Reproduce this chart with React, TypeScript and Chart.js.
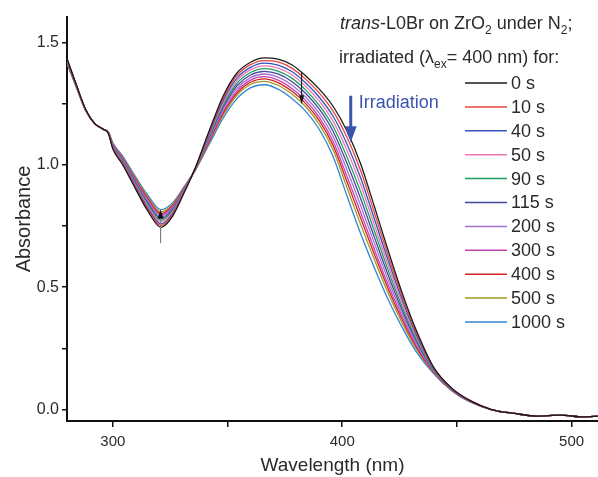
import React, { useEffect, useRef } from 'react';
import { Chart, registerables } from 'chart.js';

Chart.register(...registerables);

// Wavelength grid (nm)
const wavelengths = [280, 284, 288, 292, 296, 298, 300, 304, 310, 315, 321, 326, 331, 336, 342, 348, 354, 360, 366, 372, 378, 384, 390, 396, 402, 408, 414, 420, 426, 432, 440, 448, 456, 465, 475, 485, 495, 505, 512];

// Absorbance per irradiation time
const abs0 = [1.435, 1.33, 1.23, 1.17, 1.145, 1.13, 1.065, 1.005, 0.9, 0.815, 0.745, 0.79, 0.885, 0.99, 1.14, 1.28, 1.375, 1.42, 1.438, 1.433, 1.41, 1.365, 1.31, 1.24, 1.14, 1.005, 0.83, 0.65, 0.48, 0.33, 0.17, 0.085, 0.035, 0.0, -0.016, -0.027, -0.023, -0.03, -0.027];
const abs10 = [1.433, 1.329, 1.23, 1.17, 1.145, 1.13, 1.068, 1.009, 0.905, 0.822, 0.752, 0.796, 0.888, 0.989, 1.135, 1.271, 1.365, 1.41, 1.427, 1.421, 1.396, 1.351, 1.294, 1.22, 1.114, 0.977, 0.805, 0.63, 0.466, 0.321, 0.168, 0.084, 0.035, 0.0, -0.016, -0.027, -0.023, -0.03, -0.027];
const abs40 = [1.431, 1.328, 1.229, 1.17, 1.145, 1.131, 1.07, 1.012, 0.91, 0.828, 0.759, 0.801, 0.89, 0.988, 1.129, 1.262, 1.354, 1.399, 1.416, 1.408, 1.382, 1.336, 1.277, 1.199, 1.087, 0.948, 0.78, 0.61, 0.452, 0.312, 0.165, 0.083, 0.034, 0.0, -0.016, -0.027, -0.023, -0.03, -0.027];
const abs50 = [1.429, 1.327, 1.229, 1.17, 1.145, 1.132, 1.073, 1.016, 0.915, 0.835, 0.767, 0.807, 0.893, 0.987, 1.124, 1.253, 1.344, 1.389, 1.405, 1.396, 1.369, 1.322, 1.261, 1.179, 1.061, 0.92, 0.755, 0.59, 0.437, 0.303, 0.163, 0.082, 0.034, 0.0, -0.016, -0.027, -0.023, -0.03, -0.027];
const abs90 = [1.427, 1.326, 1.228, 1.17, 1.145, 1.132, 1.075, 1.019, 0.92, 0.841, 0.774, 0.812, 0.895, 0.986, 1.118, 1.244, 1.333, 1.378, 1.394, 1.384, 1.355, 1.307, 1.244, 1.158, 1.034, 0.891, 0.73, 0.57, 0.423, 0.294, 0.16, 0.081, 0.033, 0.0, -0.016, -0.027, -0.023, -0.03, -0.027];
const abs115 = [1.425, 1.325, 1.228, 1.17, 1.145, 1.133, 1.078, 1.023, 0.925, 0.848, 0.781, 0.818, 0.898, 0.985, 1.113, 1.235, 1.323, 1.368, 1.383, 1.372, 1.341, 1.293, 1.228, 1.138, 1.008, 0.863, 0.705, 0.55, 0.409, 0.285, 0.158, 0.08, 0.033, 0.0, -0.016, -0.027, -0.023, -0.03, -0.027];
const abs200 = [1.423, 1.324, 1.227, 1.17, 1.145, 1.133, 1.08, 1.026, 0.93, 0.854, 0.788, 0.823, 0.9, 0.984, 1.107, 1.226, 1.312, 1.357, 1.372, 1.359, 1.327, 1.278, 1.211, 1.117, 0.981, 0.834, 0.68, 0.53, 0.395, 0.276, 0.155, 0.079, 0.032, 0.0, -0.016, -0.027, -0.023, -0.03, -0.027];
const abs300 = [1.421, 1.323, 1.227, 1.17, 1.145, 1.134, 1.083, 1.03, 0.935, 0.861, 0.795, 0.829, 0.903, 0.983, 1.102, 1.217, 1.302, 1.347, 1.361, 1.347, 1.313, 1.264, 1.195, 1.097, 0.955, 0.806, 0.655, 0.51, 0.381, 0.267, 0.153, 0.078, 0.032, 0.0, -0.016, -0.027, -0.023, -0.03, -0.027];
const abs400 = [1.419, 1.322, 1.226, 1.17, 1.145, 1.134, 1.085, 1.032, 0.939, 0.866, 0.801, 0.833, 0.905, 0.982, 1.097, 1.21, 1.293, 1.338, 1.352, 1.337, 1.302, 1.252, 1.181, 1.08, 0.933, 0.783, 0.635, 0.494, 0.369, 0.26, 0.151, 0.077, 0.031, 0.0, -0.016, -0.027, -0.023, -0.03, -0.027];
const abs500 = [1.418, 1.321, 1.226, 1.17, 1.145, 1.134, 1.087, 1.035, 0.944, 0.872, 0.808, 0.838, 0.907, 0.981, 1.092, 1.202, 1.284, 1.329, 1.342, 1.326, 1.29, 1.239, 1.166, 1.062, 0.909, 0.757, 0.613, 0.476, 0.356, 0.252, 0.148, 0.076, 0.031, 0.0, -0.016, -0.027, -0.023, -0.03, -0.027];
const abs1000 = [1.415, 1.32, 1.225, 1.17, 1.145, 1.135, 1.09, 1.04, 0.95, 0.88, 0.817, 0.845, 0.91, 0.98, 1.085, 1.19, 1.27, 1.315, 1.328, 1.31, 1.272, 1.22, 1.145, 1.035, 0.875, 0.72, 0.58, 0.45, 0.338, 0.24, 0.145, 0.075, 0.03, 0.0, -0.016, -0.027, -0.023, -0.03, -0.027];

const seriesValues = [abs0, abs10, abs40, abs50, abs90, abs115, abs200, abs300, abs400, abs500, abs1000];
const seriesLabels = ['0 s', '10 s', '40 s', '50 s', '90 s', '115 s', '200 s', '300 s', '400 s', '500 s', '1000 s'];
const seriesColors = ['#1a1a1a', '#e8453c', '#3552c0', '#ea7ab6', '#1f9e62', '#45479a', '#a574d2', '#c444b0', '#d42222', '#a09a22', '#2f85d4'];

const xTicks = [300, 350, 400, 450, 500];
const xTickLabels = ['300', '', '400', '', '500'];
const yTicks = [0, 0.25, 0.5, 0.75, 1.0, 1.25, 1.5];
const yTickLabels = ['0.0', '', '0.5', '', '1.0', '', '1.5'];

const FONT = '"Liberation Sans", Arial, Helvetica, sans-serif';
const TEXT = '#2a2a2a';
const BLUE = '#3a55b0';

function drawArrow(ctx: CanvasRenderingContext2D, x: number, y0: number, y1: number, stemColor: string, headColor: string, stemW: number, headW: number, headL: number) {
  const dir = y1 > y0 ? 1 : -1;
  ctx.save();
  ctx.strokeStyle = stemColor;
  ctx.lineWidth = stemW;
  ctx.beginPath();
  ctx.moveTo(x, y0);
  ctx.lineTo(x, y1 - dir * headL * 0.8);
  ctx.stroke();
  ctx.fillStyle = headColor;
  ctx.beginPath();
  ctx.moveTo(x - headW / 2, y1 - dir * headL);
  ctx.lineTo(x + headW / 2, y1 - dir * headL);
  ctx.lineTo(x, y1);
  ctx.closePath();
  ctx.fill();
  ctx.restore();
}

const annotationPlugin = {
  id: 'annot',
  afterDatasetsDraw(chart: any) {
    const ctx: CanvasRenderingContext2D = chart.ctx;
    const xs = chart.scales.x;
    const ys = chart.scales.y;
    // black arrow on the peak
    drawArrow(ctx, xs.getPixelForValue(382.3), ys.getPixelForValue(1.378), ys.getPixelForValue(1.248), '#111', '#111', 1, 5, 9);
    // arrow at the minimum
    drawArrow(ctx, xs.getPixelForValue(320.8), ys.getPixelForValue(0.68), ys.getPixelForValue(0.818), '#808080', '#111', 1.2, 6, 9);
    // blue irradiation arrow
    drawArrow(ctx, xs.getPixelForValue(403.7), ys.getPixelForValue(1.283), ys.getPixelForValue(1.093), BLUE, BLUE, 3, 12, 16);
    ctx.save();
    ctx.fillStyle = BLUE;
    ctx.font = `18px ${FONT}`;
    ctx.textBaseline = 'alphabetic';
    ctx.fillText('Irradiation', xs.getPixelForValue(407.2), ys.getPixelForValue(1.232));
    ctx.restore();

    // title lines
    ctx.save();
    ctx.fillStyle = TEXT;
    ctx.textBaseline = 'alphabetic';
    const parts1: [string, string, number][] = [
      ['trans', 'italic 18px', 0], ['-L0Br on ZrO', '18px', 0], ['2', '12px', 5], [' under N', '18px', 0], ['2', '12px', 5], [';', '18px', 0],
    ];
    const parts2: [string, string, number][] = [
      ['irradiated (\u03bb', '18px', 0], ['ex', '12px', 5], ['= 400 nm) for:', '18px', 0],
    ];
    const drawParts = (parts: [string, string, number][], x0: number, base: number) => {
      let x = x0;
      for (const [t, f, dy] of parts) {
        ctx.font = `${f} ${FONT}`;
        ctx.fillText(t, x, base + dy);
        x += ctx.measureText(t).width;
      }
    };
    drawParts(parts1, 340, 29);
    drawParts(parts2, 339, 63);

    // legend
    ctx.font = `18px ${FONT}`;
    ctx.textBaseline = 'middle';
    seriesLabels.forEach((lab, i) => {
      const y = 83 + i * 23.9;
      ctx.strokeStyle = seriesColors[i];
      ctx.lineWidth = 1.5;
      ctx.beginPath();
      ctx.moveTo(465, y);
      ctx.lineTo(507, y);
      ctx.stroke();
      ctx.fillStyle = TEXT;
      ctx.fillText(lab, 511, y + 1);
    });
    ctx.restore();
  },
};

export default function App() {
  const ref = useRef<HTMLCanvasElement | null>(null);
  useEffect(() => {
    if (!ref.current) return;
    const datasets = seriesValues.map((vals, i) => ({
      label: seriesLabels[i],
      data: wavelengths.map((w, j) => ({ x: w, y: vals[j] })),
      borderColor: seriesColors[i],
      backgroundColor: seriesColors[i],
      borderWidth: 1.3,
      pointRadius: 0,
      cubicInterpolationMode: 'monotone' as const,
      fill: false,
    }));
    const chart = new Chart(ref.current, {
      type: 'line',
      data: { datasets },
      options: {
        animation: false,
        responsive: false,
        devicePixelRatio: 1,
        layout: { padding: { top: 17, right: 0, left: 0, bottom: 0 } },
        plugins: { legend: { display: false }, tooltip: { enabled: false } },
        scales: {
          x: {
            type: 'linear',
            position: 'bottom',
            min: 280,
            max: 511.5,
            afterBuildTicks: (s: any) => { s.ticks = xTicks.map((v) => ({ value: v })); },
            afterFit: (s: any) => { s.height = 56; s.paddingLeft = 0; s.paddingRight = 0; },
            ticks: {
              autoSkip: false,
              maxRotation: 0,
              padding: 6,
              color: TEXT,
              font: { family: FONT, size: 15 },
              callback: (v: any) => { const i = xTicks.indexOf(Number(v)); return i >= 0 ? xTickLabels[i] : ''; },
            },
            grid: { drawOnChartArea: false, drawTicks: true, tickLength: 6, color: '#111', lineWidth: 1.5 },
            border: { display: true, color: '#111', width: 2 },
            title: { display: true, text: 'Wavelength (nm)', color: TEXT, font: { family: FONT, size: 19 }, padding: { top: 0, bottom: 0 } },
          },
          y: {
            type: 'linear',
            position: 'left',
            min: -0.047,
            max: 1.605,
            afterBuildTicks: (s: any) => { s.ticks = yTicks.map((v) => ({ value: v })); },
            afterFit: (s: any) => { s.width = 67; s.paddingTop = 0; s.paddingBottom = 0; },
            ticks: {
              autoSkip: false,
              padding: 3,
              color: TEXT,
              font: { family: FONT, size: 16 },
              callback: (v: any) => { const i = yTicks.findIndex((t) => Math.abs(t - Number(v)) < 1e-6); return i >= 0 ? yTickLabels[i] : ''; },
            },
            grid: { drawOnChartArea: false, drawTicks: true, tickLength: 5, color: '#111', lineWidth: 1.5 },
            border: { display: true, color: '#111', width: 2 },
            title: { display: true, text: 'Absorbance', color: TEXT, font: { family: FONT, size: 20 }, padding: { top: 12, bottom: 0 } },
          },
        },
      },
      plugins: [annotationPlugin],
    });
    return () => chart.destroy();
  }, []);
  return (
    <div style={{ position: 'fixed', left: 0, top: 0, width: 598, height: 477, background: '#fff' }}>
      <canvas ref={ref} width={598} height={477} style={{ display: 'block' }} />
    </div>
  );
}
